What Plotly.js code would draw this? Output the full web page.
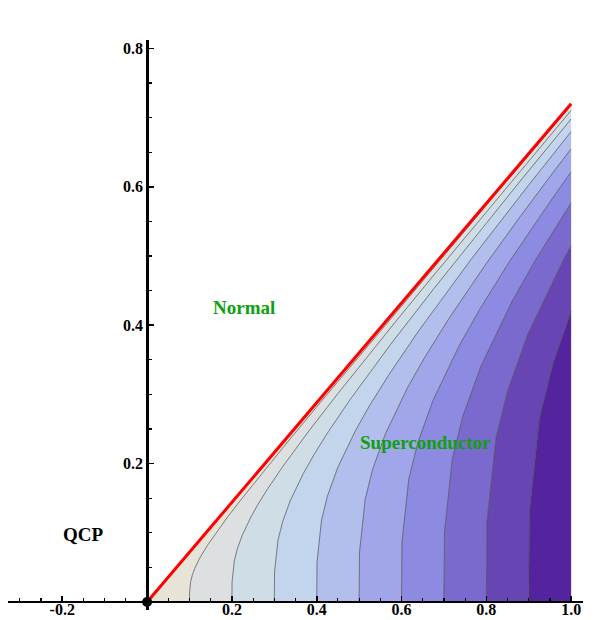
<!DOCTYPE html>
<html>
<head>
<meta charset="utf-8">
<script src="https://cdn.plot.ly/plotly-3.0.1.min.js"></script>
<style>html,body{margin:0;padding:0;background:#fff;}</style>
</head>
<body>
<div id="chart" style="width:611px;height:620px;"></div>
<script>
// ---- data ----
const contourLevels = [0.1, 0.2, 0.3, 0.4, 0.5, 0.6, 0.7, 0.8, 0.9];

const contourU = [
  [0.1, 0.1002, 0.1029, 0.1064, 0.1124, 0.1228, 0.1426, 0.1604, 0.1765, 0.1913, 0.2252, 0.2636, 0.2933, 0.3369, 0.4105, 0.5777, 0.815, 1.0],
  [0.2, 0.2004, 0.2057, 0.2127, 0.2248, 0.2457, 0.2619, 0.2851, 0.3207, 0.3530, 0.3826, 0.4505, 0.5273, 0.5865, 0.6739, 0.8210, 1.0],
  [0.3, 0.3006, 0.3086, 0.3191, 0.3371, 0.3685, 0.3929, 0.4277, 0.4811, 0.5295, 0.5739, 0.6757, 0.7909, 0.8798, 1.0],
  [0.4, 0.4008, 0.4114, 0.4254, 0.4495, 0.4914, 0.5238, 0.5703, 0.6414, 0.7060, 0.7652, 0.9009, 1.0],
  [0.5, 0.501, 0.5143, 0.5318, 0.5619, 0.6142, 0.6548, 0.7129, 0.8018, 0.8825, 0.9566, 1.0],
  [0.6, 0.6011, 0.6172, 0.6382, 0.6743, 0.7370, 0.7858, 0.8554, 0.9622, 1.0],
  [0.7, 0.7013, 0.7200, 0.7445, 0.7867, 0.8599, 0.9167, 1.0],
  [0.8, 0.8015, 0.8229, 0.8509, 0.8990, 0.9827, 1.0],
  [0.9, 0.9017, 0.9257, 0.9572, 1.0]
];
const contourT = [
  [0, 0.0144, 0.0296, 0.0383, 0.0485, 0.0619, 0.0821, 0.0981, 0.1118, 0.1240, 0.1508, 0.1803, 0.2027, 0.2353, 0.2897, 0.4118, 0.5839, 0.7176],
  [0, 0.0289, 0.0592, 0.0766, 0.0971, 0.1238, 0.1414, 0.1642, 0.1963, 0.2236, 0.2480, 0.3016, 0.3607, 0.4054, 0.4706, 0.5793, 0.7104],
  [0, 0.0433, 0.0889, 0.1149, 0.1456, 0.1857, 0.2122, 0.2464, 0.2944, 0.3355, 0.3719, 0.4524, 0.5410, 0.6081, 0.6979],
  [0, 0.0577, 0.1185, 0.1532, 0.1942, 0.2476, 0.2829, 0.3285, 0.3926, 0.4473, 0.4960, 0.6032, 0.6797],
  [0, 0.0721, 0.1481, 0.1915, 0.2427, 0.3096, 0.3536, 0.4106, 0.4907, 0.5591, 0.6199, 0.6548],
  [0, 0.0866, 0.1777, 0.2297, 0.2913, 0.3715, 0.4243, 0.4927, 0.5888, 0.6214],
  [0, 0.1010, 0.2074, 0.2680, 0.3398, 0.4334, 0.4950, 0.5767],
  [0, 0.1154, 0.2370, 0.3063, 0.3884, 0.4953, 0.5148],
  [0, 0.1298, 0.2666, 0.3446, 0.4198]
];

// phase boundary (red line)
const boundaryU = [0, 1.0];
const boundaryT = [0, 0.72];

// right edge of the shaded region
const edgeU = [1.0];
const edgeT = [0];

// tick labels
const xTickVals = [-0.2, 0.2, 0.4, 0.6, 0.8, 1.0];
const xTickText = ['-0.2', '0.2', '0.4', '0.6', '0.8', '1.0'];
const yTickVals = [0.2, 0.4, 0.6, 0.8];
const yTickText = ['0.2', '0.4', '0.6', '0.8'];

// region labels
const labelText = ['Normal', 'Superconductor', 'QCP'];
const labelU = [0.229, 0.656, -0.151];
const labelT = [0.426, 0.231, 0.097];

// ---- styles ----
const regionColors = ['#E7E3D7', '#DCE0E1', '#CFDDE7', '#C2D5EC', '#B2BEEC',
                      '#A1A5E9', '#8D8BE1', '#7B6ACD', '#6746B4', '#53249E'];
const xRange = [-0.328, 1.028];
const yRange = [-0.0116, 0.812];

// ---- build traces ----
const traces = [];
const bounds = [{u: boundaryU, t: boundaryT}];
for (let i = 0; i < contourLevels.length; i++) bounds.push({u: contourU[i], t: contourT[i]});
bounds.push({u: edgeU, t: edgeT});

for (let i = 0; i < bounds.length - 1; i++) {
  const a = bounds[i], b = bounds[i + 1];
  const xs = a.u.concat(b.u.slice().reverse());
  const ys = a.t.concat(b.t.slice().reverse());
  traces.push({
    type: 'scatter', mode: 'lines', x: xs, y: ys,
    fill: 'toself', fillcolor: regionColors[i],
    line: {width: 0, color: regionColors[i]},
    hoverinfo: 'skip', showlegend: false
  });
}
for (let i = 0; i < contourLevels.length; i++) {
  traces.push({
    type: 'scatter', mode: 'lines', x: contourU[i], y: contourT[i],
    line: {width: 0.9, color: 'rgba(70,70,70,0.75)'},
    hoverinfo: 'skip', showlegend: false
  });
}
traces.push({
  type: 'scatter', mode: 'lines', x: boundaryU, y: boundaryT,
  line: {width: 3, color: '#FF0000'}, hoverinfo: 'skip', showlegend: false
});
traces.push({
  type: 'scatter', mode: 'markers', x: [boundaryU[0]], y: [boundaryT[0]],
  marker: {size: 10, color: '#000'}, cliponaxis: false,
  hoverinfo: 'skip', showlegend: false
});

const serif = 'Liberation Serif, Times New Roman, serif';
const annotations = [];
for (let i = 0; i < labelText.length; i++) {
  annotations.push({
    x: labelU[i], y: labelT[i], xref: 'x', yref: 'y', showarrow: false,
    text: '<b>' + labelText[i] + '</b>',
    font: {family: serif, size: 19, color: i < 2 ? '#0FA00F' : '#000'}
  });
}
annotations.push({x: 1.068, y: -0.003, xref: 'x', yref: 'y', showarrow: false,
  text: '<b>U</b>', font: {family: serif, size: 24, color: '#000'}});
annotations.push({x: 0, y: 0.845, xref: 'x', yref: 'y', showarrow: false,
  text: '<b>T</b>', font: {family: serif, size: 24, color: '#000'}});

const layout = {
  width: 611, height: 620,
  margin: {l: 8, r: 28, t: 40, b: 10},
  paper_bgcolor: '#fff', plot_bgcolor: '#fff',
  showlegend: false,
  xaxis: {
    range: xRange, anchor: 'free',
    position: (0 - yRange[0]) / (yRange[1] - yRange[0]),
    showgrid: false, zeroline: false, showline: true, linecolor: '#000', linewidth: 2.5,
    tickmode: 'array', tickvals: xTickVals, ticktext: xTickText.map(s => '<b>' + s + '</b>'),
    ticks: 'inside', ticklen: 5, tickwidth: 1.6, tickcolor: '#000',
    ticklabelstandoff: -8,
    minor: {dtick: 0.05, tick0: 0, ticks: 'inside', ticklen: 3, tickwidth: 1.2, tickcolor: '#000', showgrid: false},
    tickfont: {family: serif, size: 16, color: '#000'},
    automargin: false, fixedrange: true
  },
  yaxis: {
    range: yRange, anchor: 'free',
    position: (0 - xRange[0]) / (xRange[1] - xRange[0]),
    showgrid: false, zeroline: false, showline: true, linecolor: '#000', linewidth: 2.5,
    tickmode: 'array', tickvals: yTickVals, ticktext: yTickText.map(s => '<b>' + s + '</b>'),
    ticks: 'inside', ticklen: 5, tickwidth: 1.6, tickcolor: '#000',
    ticklabelstandoff: 0,
    minor: {dtick: 0.05, tick0: 0, ticks: 'inside', ticklen: 3, tickwidth: 1.2, tickcolor: '#000', showgrid: false},
    tickfont: {family: serif, size: 16, color: '#000'},
    automargin: false, fixedrange: true
  },
  annotations: annotations
};

Plotly.newPlot('chart', traces, layout, {staticPlot: true, displayModeBar: false});
</script>
</body>
</html>
